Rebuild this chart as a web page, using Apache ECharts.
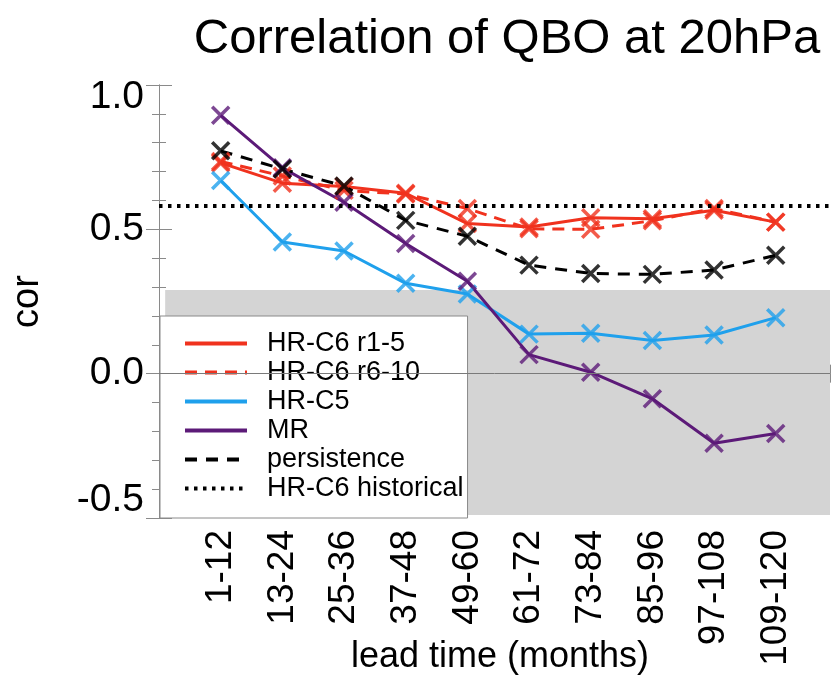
<!DOCTYPE html>
<html>
<head>
<meta charset="utf-8">
<script src="https://cdn.jsdelivr.net/npm/echarts@6/dist/echarts.min.js"></script>
<style>
html,body{margin:0;padding:0;background:#fff;}
#chart{width:834px;height:690px;}
</style>
</head>
<body>
<div id="chart"></div>
<script>
// ---- data ----
const categories = ['1-12','13-24','25-36','37-48','49-60','61-72','73-84','85-96','97-108','109-120'];
const hrC6r1to5  = [0.730, 0.660, 0.648, 0.625, 0.520, 0.508, 0.540, 0.537, 0.566, 0.525];
const hrC6r6to10 = [0.735, 0.685, 0.635, 0.622, 0.572, 0.502, 0.500, 0.530, 0.572, 0.525];
const hrC5       = [0.669, 0.456, 0.425, 0.313, 0.276, 0.137, 0.140, 0.115, 0.134, 0.194];
const mr         = [0.895, 0.713, 0.594, 0.451, 0.320, 0.066, 0.005, -0.087, -0.241, -0.207];
const persistence= [0.772, 0.709, 0.650, 0.531, 0.476, 0.376, 0.347, 0.344, 0.359, 0.410];
const historical = [0.58];
const significanceBand = [-0.49, 0.29];
const yTicks = [-0.5, 0.0, 0.5, 1.0];

const FONT = 'Liberation Sans';
const RED = '#f0321e', BLUE = '#1fa0ec', PURPLE = '#5c1a78', BLACK = '#000000';
const AXIS = '#8a8a8a';
const XMAX = 10.88;
const XSYM = 'path://M0,0L10,10M10,0L0,10';

const pts = arr => arr.map((v, i) => [i + 1, v]);

function lineSeries(name, arr, color, type) {
  return {
    name: name, type: 'line', data: pts(arr), symbol: 'none',
    lineStyle: {color: color, width: 3, type: type},
    itemStyle: {color: color}, z: 3
  };
}
function markerSeries(arr, color) {
  return {
    name: '_m' + color, type: 'scatter', data: pts(arr),
    symbol: XSYM, symbolSize: 17,
    itemStyle: {color: 'none', borderColor: color, borderWidth: 3.5},
    z: 4, silent: true
  };
}

const chart = echarts.init(document.getElementById('chart'), null, {renderer: 'canvas'});
const axisCommonX = {
  type: 'value', min: 0, max: XMAX, interval: 1,
  axisLine: {show: true, lineStyle: {color: AXIS, width: 1}},
  axisTick: {show: true, inside: true, length: 9, lineStyle: {color: AXIS}},
  splitLine: {show: false}
};
const axisCommonY = {
  type: 'value', min: yTicks[0], max: yTicks[yTicks.length - 1], interval: 0.5,
  axisLine: {show: true, lineStyle: {color: AXIS, width: 1}},
  axisTick: {show: true, inside: true, length: 13, lineStyle: {color: AXIS}},
  minorTick: {show: true, splitNumber: 5, length: 7, lineStyle: {color: AXIS}},
  splitLine: {show: false}
};

chart.setOption({
  animation: false,
  textStyle: {fontFamily: FONT},
  title: {
    text: 'Correlation of QBO at 20hPa', left: 502, textAlign: 'center', top: 10,
    textStyle: {fontSize: 49, fontWeight: 'normal', color: '#000', fontFamily: FONT}
  },
  grid: {left: 159, top: 85, right: 4, bottom: 172, containLabel: false, outerBoundsMode: 'none'},
  legend: {
    orient: 'vertical', left: 160, top: 316,
    padding: [14, 4, 16, 23], itemGap: 2, itemWidth: 62, itemHeight: 14,
    backgroundColor: '#ffffff', borderColor: AXIS, borderWidth: 1,
    data: ['HR-C6 r1-5', 'HR-C6 r6-10', 'HR-C5', 'MR', 'persistence', 'HR-C6 historical'],
    lineStyle: {width: 4},
    itemStyle: {opacity: 0},
    textStyle: {fontSize: 27, lineHeight: 27, color: '#000', fontFamily: FONT, padding: [0, 0, 0, 15]},
    selectedMode: false
  },
  xAxis: [
    Object.assign({}, axisCommonX, {
      position: 'bottom',
      name: 'lead time (months)', nameLocation: 'middle', nameGap: 121, nameMoveOverlap: false,
      nameTextStyle: {fontSize: 36, color: '#000', fontFamily: FONT, padding: [0, 0, 0, 11]},
      axisLabel: {
        rotate: 90, fontSize: 37, color: '#000', margin: 12, fontFamily: FONT,
        formatter: v => (Number.isInteger(v) && v >= 1 && v <= categories.length) ? categories[v - 1] : ''
      }
    }),
    Object.assign({}, axisCommonX, {position: 'top', axisLabel: {show: false}})
  ],
  yAxis: [
    Object.assign({}, axisCommonY, {
      position: 'left',
      name: 'cor', nameLocation: 'middle', nameGap: 112, nameRotate: 90,
      nameTextStyle: {fontSize: 38, color: '#000', fontFamily: FONT},
      axisLabel: {
        fontSize: 39, color: '#000', margin: 15, fontFamily: FONT,
        formatter: v => {
          const s = v.toFixed(1);
          if (v === yTicks[yTicks.length - 1]) return '{t|' + s + '}';
          if (v === yTicks[0]) return '{b|' + s + '}';
          return '{n|' + s + '}';
        },
        rich: {
          n: {fontSize: 39, fontFamily: FONT, color: '#000'},
          t: {fontSize: 39, fontFamily: FONT, color: '#000', padding: [24, 0, 0, 0]},
          b: {fontSize: 39, fontFamily: FONT, color: '#000', padding: [0, 0, 36, 0]}
        }
      }
    }),
    Object.assign({}, axisCommonY, {position: 'right', axisLabel: {show: false}})
  ],
  series: [
    {
      name: '_bg', type: 'line', data: [], z: 1, silent: true,
      markArea: {
        silent: true,
        itemStyle: {color: '#d4d4d4'},
        data: [[{xAxis: 0.1, yAxis: significanceBand[0]}, {xAxis: XMAX, yAxis: significanceBand[1]}]]
      },
      markLine: {
        silent: true, symbol: 'none', label: {show: false},
        lineStyle: {color: '#7a7a7a', width: 1, type: 'solid'},
        data: [{yAxis: 0}]
      }
    },
    lineSeries('HR-C6 r1-5', hrC6r1to5, RED, 'solid'),
    lineSeries('HR-C6 r6-10', hrC6r6to10, RED, [12, 8]),
    lineSeries('HR-C5', hrC5, BLUE, 'solid'),
    lineSeries('MR', mr, PURPLE, 'solid'),
    lineSeries('persistence', persistence, BLACK, [12, 9]),
    {
      name: 'HR-C6 historical', type: 'line', data: [], symbol: 'none',
      lineStyle: {color: BLACK, width: 4, type: [3.5, 5.5]},
      itemStyle: {color: BLACK}, z: 3,
      markLine: {
        silent: true, symbol: 'none', label: {show: false},
        lineStyle: {color: BLACK, width: 4, type: [3.5, 5.5]},
        data: [{yAxis: historical[0]}]
      }
    },
    markerSeries(hrC6r1to5, RED),
    markerSeries(hrC6r6to10, RED),
    markerSeries(hrC5, BLUE),
    markerSeries(mr, PURPLE),
    markerSeries(persistence, BLACK)
  ]
});
</script>
</body>
</html>
